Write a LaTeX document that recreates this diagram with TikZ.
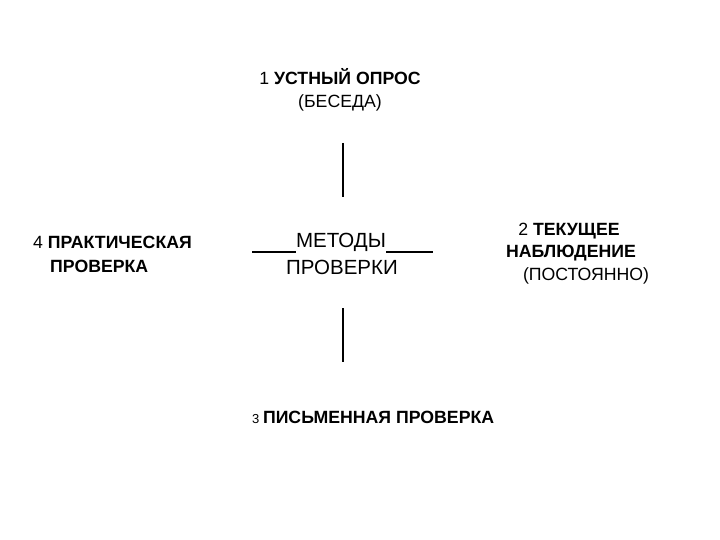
\documentclass[tikz,border=0pt]{standalone}
\usepackage{fontspec}
\setmainfont{Liberation Sans}
\begin{document}
\begin{tikzpicture}[x=1pt,y=-1pt,
  lbl/.style={inner sep=0pt,font=\fontsize{17.7}{21}\selectfont\bfseries},
  lblr/.style={inner sep=0pt,font=\fontsize{17.7}{21}\selectfont},
  big/.style={inner sep=0pt,font=\fontsize{20.5}{24}\selectfont},
  ln/.style={line width=1.2pt}]
\useasboundingbox (0,0) rectangle (720,540);
\node[lbl] (t1) at (340,77) {\mdseries 1 \bfseries УСТНЫЙ ОПРОС};
\node[lblr] (t1b) at (340,103) {(БЕСЕДА)};
\node[big] (m1) at (341,242) {МЕТОДЫ};
\node[big] (m2) at (342,267) {ПРОВЕРКИ};
\coordinate (a1) at (343,143); \coordinate (a2) at (343,197);
\coordinate (b1) at (343,308); \coordinate (b2) at (343,362);
\draw[ln] (a1) -- (a2);
\draw[ln] (b1) -- (b2);
\coordinate (u1) at (252,252); \coordinate (u2) at (433,252);
\draw[ln] (u1) -- (m1.south west|-u1);
\draw[ln] (m1.south east|-u1) -- (u2);
\node[lbl,anchor=west] (t3) at (252,417) {\mdseries\fontsize{13}{15}\selectfont 3 \fontsize{17.7}{21}\selectfont\bfseries ПИСЬМЕННАЯ ПРОВЕРКА};
\node[lbl,anchor=west] (t4) at (33,242) {\mdseries 4 \bfseries ПРАКТИЧЕСКАЯ};
\node[lbl,anchor=west] (t4b) at (50,266) {ПРОВЕРКА};
\node[lbl] (t2) at (569,231) {\mdseries 2 \bfseries ТЕКУЩЕЕ};
\node[lbl] (t2b) at (571,253) {НАБЛЮДЕНИЕ};
\node[lblr] (t2c) at (586,276) {(ПОСТОЯННО)};
\end{tikzpicture}
\end{document}
